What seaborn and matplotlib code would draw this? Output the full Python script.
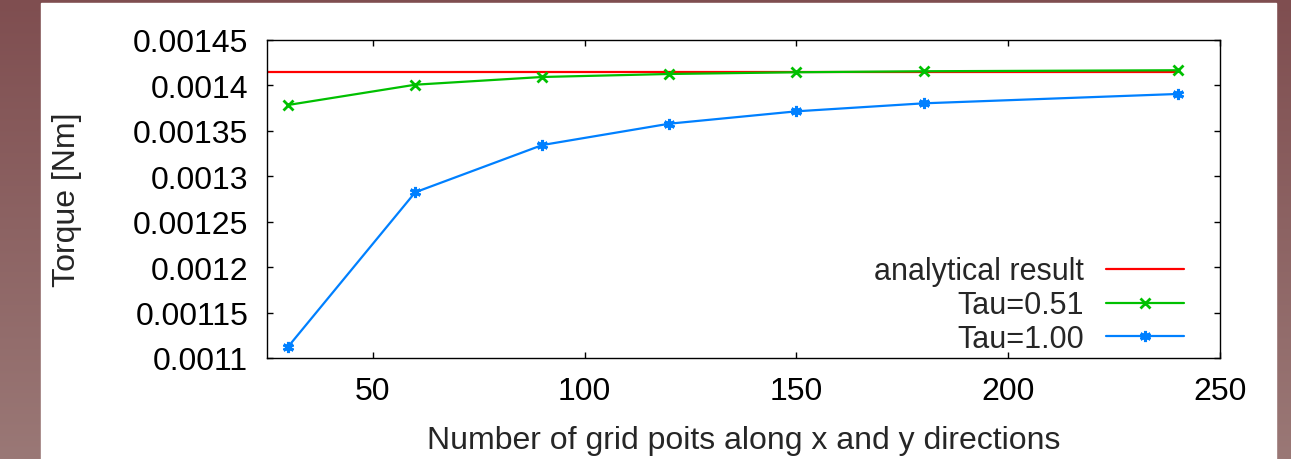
import numpy as np
import pandas as pd
import matplotlib
matplotlib.use("Agg")
import matplotlib.pyplot as plt
import seaborn as sns

# ---- data ----
grid_points = [30, 60, 90, 120, 150, 180, 240]
tau051 = [0.0013785, 0.0014008, 0.0014093, 0.0014126, 0.0014145, 0.0014156, 0.0014167]
tau100 = [0.0011125, 0.0012824, 0.0013344, 0.0013579, 0.0013715, 0.0013803, 0.0013906]
analytical_x = [25, 240]
analytical_y = [0.0014145, 0.0014145]
x_ticks = [50, 100, 150, 200, 250]
y_ticks = [0.0011, 0.00115, 0.0012, 0.00125, 0.0013, 0.00135, 0.0014, 0.00145]
y_tick_labels = ["0.0011", "0.00115", "0.0012", "0.00125", "0.0013", "0.00135", "0.0014", "0.00145"]

sns.set_style("ticks")
plt.rcParams['font.family'] = ['Liberation Sans', 'DejaVu Sans']
FS = 23

W, H = 1291, 460
fig = plt.figure(figsize=(W / 100, H / 100), dpi=100)

# background gradient
bg = fig.add_axes([0, 0, 1, 1], zorder=-10)
top = np.array([127, 78, 80]) / 255
bot = np.array([154, 120, 118]) / 255
t = np.linspace(0, 1, 256)[:, None]
grad = (top[None, :] * (1 - t) + bot[None, :] * t)[:, None, :]
bg.imshow(grad, aspect='auto', extent=[0, 1, 0, 1], origin='upper')
bg.add_patch(plt.Rectangle((41 / W, 0), (1276 - 41) / W, (460 - 4) / H, color='white', transform=bg.transAxes))
bg.set_xlim(0, 1); bg.set_ylim(0, 1)
bg.axis('off')

ax = fig.add_axes([267 / W, (H - 359) / H, (1220 - 267) / W, (359 - 41) / H])
ax.set_facecolor('white')

df_a = pd.DataFrame({'x': analytical_x, 'y': analytical_y})
df_g = pd.DataFrame({'x': grid_points, 'y': tau051})
df_b = pd.DataFrame({'x': grid_points, 'y': tau100})

sns.lineplot(data=df_a, x='x', y='y', ax=ax, color='#ff0000', lw=1.6, label='analytical result')
sns.lineplot(data=df_g, x='x', y='y', ax=ax, color='#00c000', lw=1.6, marker='x', markersize=7,
             markeredgewidth=2, markeredgecolor='#00c000', label='Tau=0.51')
sns.lineplot(data=df_b, x='x', y='y', ax=ax, color='#0080ff', lw=1.6, marker=(6, 2, 0), markersize=8,
             markeredgewidth=2.2, markeredgecolor='#0080ff', label='Tau=1.00')

ax.set_xlim(25, 250)
ax.set_ylim(0.0011, 0.00145)
ax.set_xticks(x_ticks)
ax.set_yticks(y_ticks)
ax.set_yticklabels(y_tick_labels)
ax.tick_params(direction='in', length=4, width=1, top=True, right=True, labelsize=FS, colors='black')
ax.tick_params(axis='x', pad=13)
ax.tick_params(axis='y', pad=13.5)
for s in ax.spines.values():
    s.set_color('black')
    s.set_linewidth(1)
    s.set_visible(True)

ax.set_xlabel('Number of grid poits along x and y directions', fontsize=FS)
ax.set_ylabel('Torque [Nm]', fontsize=FS)
ax.yaxis.set_label_coords((82 - 267) / 953, 0.5)
ax.xaxis.set_label_coords(0.5, -(426 - 359) / 318)

leg = ax.legend(loc='lower right', bbox_to_anchor=(0.962, 0.012), frameon=False, markerfirst=False,
                fontsize=22, handlelength=2.55, handletextpad=0.72, labelspacing=0.13, borderpad=0,
                borderaxespad=0)
for txt in leg.get_texts():
    txt.set_ha('right')

fig.savefig('out.png', dpi=100)
